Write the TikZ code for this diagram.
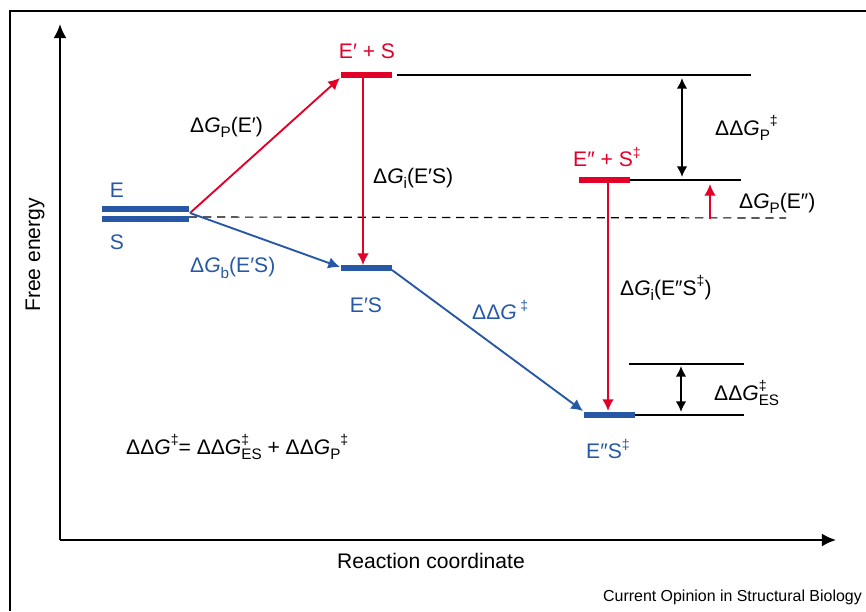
\documentclass[tikz,border=0pt]{standalone}
\usepackage{fontspec}
\setmainfont{Liberation Sans}
\usepackage{xcolor}
\usetikzlibrary{arrows.meta}

\definecolor{fered}{RGB}{226,0,40}
\definecolor{feblue}{RGB}{38,88,166}

\newcommand{\dG}{Δ\textit{G}}
\newcommand{\ddG}{ΔΔ\textit{G}}
\newcommand{\ddagr}{‡}
\newcommand{\lo}[1]{\raisebox{-4.5pt}{\fontsize{13}{15}\selectfont #1}}
\newcommand{\hi}[1]{\raisebox{8pt}{\fontsize{12}{14}\selectfont #1}}
\newcommand{\hilo}[2]{\rlap{\hi{#1}}\lo{#2}}

\begin{document}
\begin{tikzpicture}[
  x=0.03cm, y=-0.03cm,
  every node/.style={inner sep=0pt, font=\fontsize{18}{21}\selectfont},
  axis/.style={line width=1.6pt, -{Latex[length=12pt,width=11pt]}},
  level/.style={line width=5.5pt},
  tie/.style={line width=1.5pt},
  rarr/.style={draw=fered, line width=1.6pt, -{Latex[length=10pt,width=10pt]}},
  barr/.style={draw=feblue, line width=1.6pt, -{Latex[length=10pt,width=10pt]}},
  dbl/.style={line width=1.6pt, {Latex[length=9pt,width=9pt]}-{Latex[length=9pt,width=9pt]}},
  rlbl/.style={text=fered},
  blbl/.style={text=feblue},
]
  \useasboundingbox (0,0) rectangle (866,611);
  \draw[line width=1.3pt] (10,611) -- (10,11) -- (866,11);

  % axes
  \coordinate (o)  at (60,540);
  \coordinate (yt) at (60,24);
  \coordinate (xt) at (836,540);
  \draw[axis] (o) -- (yt);
  \draw[axis] (o) -- (xt);
  \node[rotate=90] (ylab) at (35,255) {Free energy};
  \node (xlab) at (431,561) {Reaction coordinate};
  \node[anchor=east, font=\fontsize{13.6}{16}\selectfont] (src) at (862,597) {Current Opinion in Structural Biology};

  % energy levels
  \coordinate (e-l)   at (102,209);  \coordinate (e-r)   at (189,209);
  \coordinate (s-l)   at (102,219);  \coordinate (s-r)   at (189,219);
  \coordinate (eps-l) at (341,75);   \coordinate (eps-r) at (392,75);
  \coordinate (es1-l) at (341,268);  \coordinate (es1-r) at (392,268);
  \coordinate (eds-l) at (579,180);  \coordinate (eds-r) at (630,180);
  \coordinate (es2-l) at (584,415);  \coordinate (es2-r) at (635,415);

  \draw[level, feblue] (e-l) -- (e-r);
  \draw[level, feblue] (s-l) -- (s-r);
  \draw[level, fered]  (eps-l) -- (eps-r);
  \draw[level, feblue] (es1-l) -- (es1-r);
  \draw[level, fered]  (eds-l) -- (eds-r);
  \draw[level, feblue] (es2-l) -- (es2-r);

  % reference lines
  \coordinate (t1) at (751,75);
  \coordinate (t2) at (741,180);
  \coordinate (t3) at (744,415);
  \coordinate (t4-l) at (629,364);  \coordinate (t4-r) at (744,364);
  \coordinate (base-r) at (786,218);
  \draw[tie] (397,75) -- (t1);
  \draw[tie] (eds-r) -- (t2);
  \draw[tie] (es2-r) -- (t3);
  \draw[tie] (t4-l) -- (t4-r);
  \draw[line width=1pt, dash pattern=on 7pt off 5pt] (189,217) -- (base-r);

  % transitions
  \coordinate (start) at (190,213);
  \draw[rarr] (start) -- (340,78);
  \draw[barr] (start) -- (340,267);
  \draw[rarr] (363,78) -- (363,265);
  \draw[barr] (392,270) -- (583,411);
  \draw[rarr] (608,183) -- (608,411);
  \draw[rarr] (710,219) -- (710,184);
  \draw[dbl] (682,78) -- (682,177);
  \draw[dbl] (681,366) -- (681,412);

  % labels
  \node[blbl] (lE)   at (117,190) {E};
  \node[blbl] (lS)   at (117,242) {S};
  \node[rlbl] (lEpS) at (367,51)  {E′ + S};
  \node[blbl] (lES1) at (366,305) {E′S};
  \node[rlbl, anchor=west] (lEdS) at (573,157) {E″ + S\hi{\ddagr}};
  \node[blbl, anchor=west] (lES2) at (586,449) {E″S\hi{\ddagr}};

  \node[anchor=west] (gP1)  at (190,127) {\dG\lo{P}(E′)};
  \node[blbl, anchor=west] (gb) at (190,268) {\dG\lo{b}(E′S)};
  \node[anchor=west] (gi1)  at (373,178) {\dG\lo{i}(E′S)};
  \node[blbl, anchor=west] (ggd) at (472,310) {\ddG\,\hi{\ddagr}};
  \node[anchor=west] (ggP)  at (715,128) {\ddG\lo{P}\hi{\ddagr}};
  \node[anchor=west] (gP2)  at (739,203) {\dG\lo{P}(E″)};
  \node[anchor=west] (gi2)  at (620,288) {\dG\lo{i}(E″S\hi{\ddagr})};
  \node[anchor=west] (ggES) at (714,393) {\ddG\hilo{\ddagr}{ES}};
  \node[anchor=west] (eq)   at (126,447) {\ddG\hi{\ddagr}= \ddG\hilo{\ddagr}{ES} + \ddG\lo{P}\hi{\ddagr}};
\end{tikzpicture}
\end{document}
